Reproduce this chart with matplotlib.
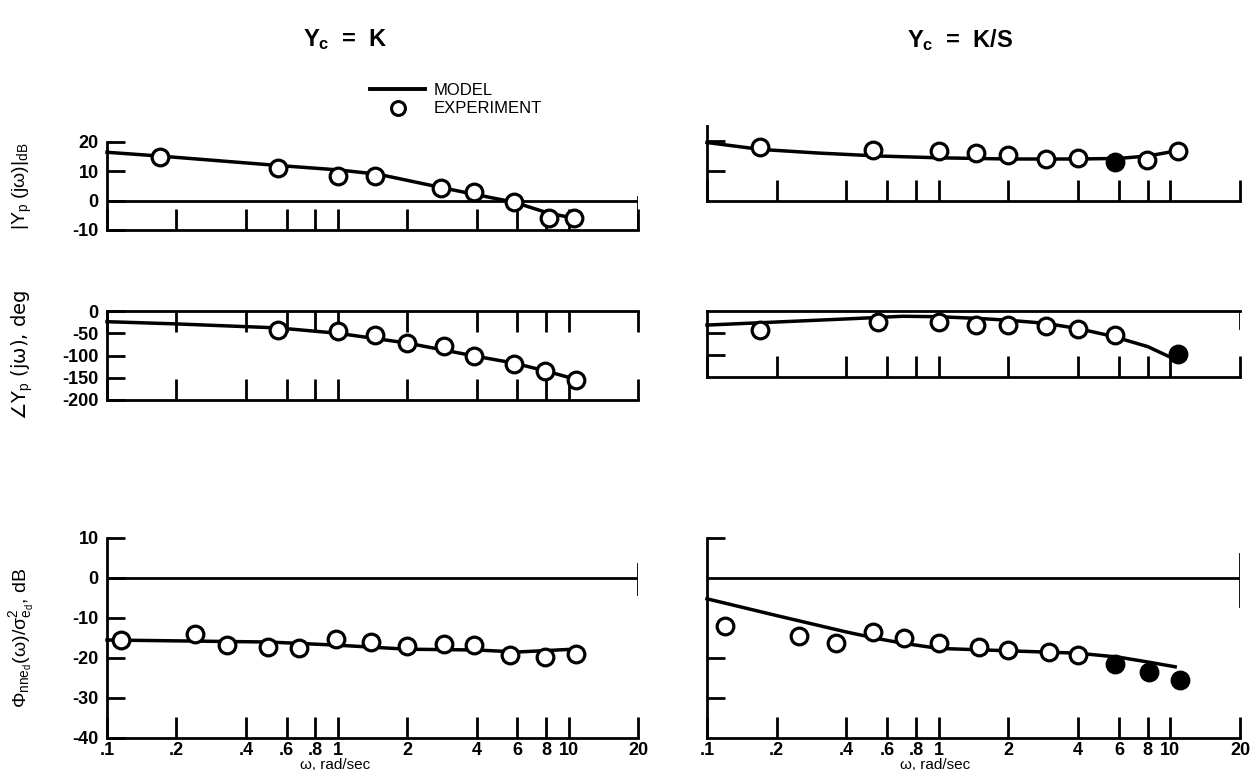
import matplotlib.pyplot as plt
from matplotlib.ticker import FixedLocator, FixedFormatter, NullLocator
from matplotlib.lines import Line2D

plt.rcParams['font.family'] = ['Liberation Sans', 'DejaVu Sans']
plt.rcParams['mathtext.fontset'] = 'custom'
plt.rcParams['mathtext.rm'] = 'Liberation Sans'
plt.rcParams['mathtext.bf'] = 'Liberation Sans:bold'
plt.rcParams['mathtext.it'] = 'Liberation Sans:italic'

# eixo de frequencia (rad/sec)
freq_ticks = [0.1, 0.2, 0.4, 0.6, 0.8, 1, 2, 4, 6, 8, 10, 20]
freq_labels = ['.1', '.2', '.4', '.6', '.8', '1', '2', '4', '6', '8', '10', '20']

# Yc = K : amplitude |Yp| em dB
k_amp_model_w = [0.1, 0.17, 0.55, 1.0, 1.5, 2.8, 4.0, 5.8, 8.0, 10.5]
k_amp_model = [16.5, 15.2, 12.0, 10.5, 9.0, 4.5, 2.0, -0.5, -4.0, -6.0]
k_amp_exp_w = [0.17, 0.55, 1.0, 1.45, 2.8, 3.9, 5.8, 8.2, 10.6]
k_amp_exp = [15.0, 11.0, 8.5, 8.5, 4.2, 2.8, -0.5, -6.0, -6.0]

# Yc = K : fase em graus
k_ph_model_w = [0.1, 0.2, 0.55, 1.0, 2.0, 4.0, 5.8, 8.0, 11.0]
k_ph_model = [-24, -29, -38, -50, -72, -102, -117, -135, -155]
k_ph_exp_w = [0.55, 1.0, 1.45, 2.0, 2.9, 3.9, 5.8, 7.9, 10.8]
k_ph_exp = [-42, -44, -55, -72, -78, -102, -118, -135, -155]

# Yc = K : espectro do remanescente, dB
k_rem_model_w = [0.1, 0.5, 1.0, 2.0, 4.0, 6.0, 10.5]
k_rem_model = [-15.5, -16.0, -16.8, -17.8, -18.0, -18.5, -17.8]
k_rem_exp_w = [0.115, 0.24, 0.33, 0.5, 0.68, 0.98, 1.4, 2.0, 2.9, 3.9, 5.6, 7.9, 10.8]
k_rem_exp = [-15.5, -14.0, -16.8, -17.3, -17.5, -15.3, -16.0, -17.0, -16.5, -16.8, -19.2, -19.7, -19.0]

# Yc = K/S : amplitude
ks_amp_model_w = [0.1, 0.17, 0.3, 0.55, 1.0, 2.0, 4.0, 6.0, 8.0, 10.8]
ks_amp_model = [19.5, 17.2, 16.0, 15.0, 14.4, 14.0, 14.0, 14.2, 15.0, 16.8]
ks_amp_exp_w = [0.17, 0.52, 1.0, 1.45, 2.0, 2.9, 4.0, 5.8, 7.9, 10.8]
ks_amp_exp = [18.0, 17.0, 16.8, 16.0, 15.3, 14.0, 14.2, 13.0, 13.6, 16.8]
ks_amp_fill = [False, False, False, False, False, False, False, True, False, False]

# Yc = K/S : fase
ks_ph_model_w = [0.1, 0.2, 0.4, 0.7, 1.0, 1.5, 2.0, 2.9, 4.0, 5.6, 8.0, 10.2]
ks_ph_model = [-32, -25, -18, -12, -13, -17, -21, -28, -40, -57, -81, -107]
ks_ph_exp_w = [0.17, 0.55, 1.0, 1.45, 2.0, 2.9, 4.0, 5.8, 10.8]
ks_ph_exp = [-43, -25, -26, -32, -32, -35, -42, -55, -97]
ks_ph_fill = [False] * 8 + [True]

# Yc = K/S : remanescente
ks_rem_model_w = [0.1, 0.2, 0.4, 0.55, 0.7, 1.0, 2.0, 4.0, 6.0, 8.0, 10.5]
ks_rem_model = [-5.2, -9.4, -13.5, -15.2, -16.3, -17.6, -18.2, -18.8, -19.8, -21.0, -22.2]
ks_rem_exp_w = [0.12, 0.25, 0.36, 0.52, 0.71, 1.0, 1.5, 2.0, 3.0, 4.0, 5.8, 8.1, 11.0]
ks_rem_exp = [-12.0, -14.5, -16.2, -13.5, -15.0, -16.2, -17.2, -18.0, -18.5, -19.3, -21.5, -23.5, -25.5]
ks_rem_fill = [False] * 10 + [True, True, True]

fig = plt.figure(figsize=(12.59, 7.70), dpi=100)
W, H = 1259, 770


def painel(x0, x1, ytop, ybot, ylim, yticks, ylabels=None, xlabels=False):
    ax = fig.add_axes([x0 / W, 1 - ybot / H, (x1 - x0) / W, (ybot - ytop) / H])
    ax.set_xscale('log')
    ax.set_xlim(0.1, 20)
    ax.set_ylim(*ylim)
    for s in ax.spines.values():
        s.set_visible(False)
        s.set_linewidth(2)
    ax.spines['left'].set_visible(True)
    ax.spines['bottom'].set_visible(True)
    ax.xaxis.set_major_locator(FixedLocator(freq_ticks))
    ax.xaxis.set_minor_locator(NullLocator())
    ax.tick_params(axis='x', direction='in', length=15, width=2, pad=3,
                   labelbottom=xlabels, labelsize=13)
    if xlabels:
        ax.xaxis.set_major_formatter(FixedFormatter(freq_labels))
        for t in ax.get_xticklabels():
            t.set_fontweight('bold')
    ax.yaxis.set_major_locator(FixedLocator(yticks))
    ax.yaxis.set_minor_locator(NullLocator())
    ax.tick_params(axis='y', direction='in', length=13, width=2, pad=6,
                   labelleft=ylabels is not None, labelsize=13)
    if ylabels is not None:
        ax.yaxis.set_major_formatter(FixedFormatter(ylabels))
        for t in ax.get_yticklabels():
            t.set_fontweight('bold')
    ax.patch.set_alpha(0)
    return ax


def curvas(ax, mw, my, ew, ey, fill=None):
    ax.plot(mw, my, color='black', lw=2.5, zorder=2, clip_on=False)
    if fill is None:
        fill = [False] * len(ew)
    for w, v, f in zip(ew, ey, fill):
        ax.plot(w, v, 'o', ms=12, mew=2.3, mec='black',
                mfc='black' if f else 'white', zorder=3, clip_on=False)


# coluna esquerda: Yc = K
ax1 = painel(107, 638, 142, 230, (-10, 20), [20, 10, 0, -10], ['20', '10', '0', '-10'])
ax1.axhline(0, color='black', lw=2)
ax1.axvline(20, 0, 0.37, color='black', lw=2)
curvas(ax1, k_amp_model_w, k_amp_model, k_amp_exp_w, k_amp_exp)

ax2 = painel(107, 638, 311, 400, (-200, 0), [0, -50, -100, -150, -200],
             ['0', '-50', '-100', '-150', '-200'])
ax2.spines['top'].set_visible(True)
ax2.tick_params(axis='x', top=True)
curvas(ax2, k_ph_model_w, k_ph_model, k_ph_exp_w, k_ph_exp)

ax3 = painel(107, 638, 538, 738, (-40, 10), [10, 0, -10, -20, -30, -40],
             ['10', '0', '-10', '-20', '-30', '-40'], xlabels=True)
ax3.axhline(0, color='black', lw=2)
ax3.axvline(20, 0.72, 0.87, color='black', lw=2)
curvas(ax3, k_rem_model_w, k_rem_model, k_rem_exp_w, k_rem_exp)

# coluna direita: Yc = K/S
ax4 = painel(707, 1240, 126, 201, (0, 25), [20, 10])
curvas(ax4, ks_amp_model_w, ks_amp_model, ks_amp_exp_w, ks_amp_exp, ks_amp_fill)

ax5 = painel(707, 1240, 311, 377, (-150, 0), [-50, -100])
ax5.spines['top'].set_visible(True)
ax5.axvline(20, 0.75, 1, color='black', lw=2)
curvas(ax5, ks_ph_model_w, ks_ph_model, ks_ph_exp_w, ks_ph_exp, ks_ph_fill)

ax6 = painel(707, 1240, 538, 738, (-40, 10), [10, -20, -30], xlabels=True)
ax6.axhline(0, color='black', lw=2)
ax6.axvline(20, 0.66, 0.92, color='black', lw=2)
curvas(ax6, ks_rem_model_w, ks_rem_model, ks_rem_exp_w, ks_rem_exp, ks_rem_fill)

# titulos das colunas
fig.text(345 / W, 1 - 40 / H, r'Y$_\mathbf{c}$  =  K', ha='center', va='center',
         fontsize=17, fontweight='bold')
fig.text(960 / W, 1 - 40 / H, r'Y$_\mathbf{c}$  =  K/S', ha='center', va='center',
         fontsize=17, fontweight='bold')

# rotulos dos eixos y
fig.text(22 / W, 1 - 186 / H, r'|Y$_\mathrm{p}$ (jω)|$_\mathrm{dB}$', rotation=90,
         ha='center', va='center', fontsize=14)
fig.text(22 / W, 1 - 355 / H, r'∠Y$_\mathrm{p}$ (jω), deg', rotation=90,
         ha='center', va='center', fontsize=14, family=['DejaVu Sans'])
fig.text(22 / W, 1 - 638 / H, r'Φ$_{\mathrm{nne_d}}$(ω)/σ$^2_{\mathrm{e_d}}$, dB', rotation=90,
         ha='center', va='center', fontsize=14)

# rotulos do eixo x
fig.text(335 / W, 1 - 765 / H, 'ω, rad/sec', ha='center', va='center', fontsize=11)
fig.text(935 / W, 1 - 765 / H, 'ω, rad/sec', ha='center', va='center', fontsize=11)

# legenda
handles = [Line2D([], [], color='black', lw=2.8),
           Line2D([], [], ls='none', marker='o', ms=10, mew=2.2, mec='black', mfc='white')]
fig.legend(handles, ['MODEL', 'EXPERIMENT'], loc='upper left',
           bbox_to_anchor=(355 / W, 1 - 68 / H), frameon=False, fontsize=12,
           handlelength=3.3, labelspacing=0.2, handletextpad=0.5)

fig.savefig('out.png', dpi=100)
